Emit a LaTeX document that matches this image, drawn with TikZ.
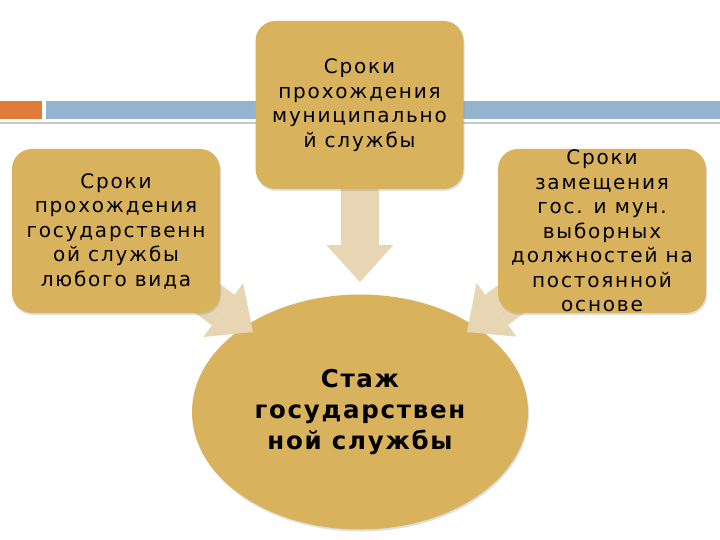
\documentclass[tikz,border=0pt]{standalone}
\usepackage{fontspec}
\setmainfont{DejaVu Sans}
\usetikzlibrary{arrows.meta,shadows,shapes.geometric}
\definecolor{boxgold}{RGB}{216,178,92}
\definecolor{arrowbeige}{RGB}{231,213,180}
\definecolor{barblue}{RGB}{147,179,207}
\definecolor{barorange}{RGB}{224,123,57}
\definecolor{linegray}{RGB}{200,200,200}
\pgfdeclarelayer{bg}
\pgfdeclarelayer{arrowlayer}
\pgfsetlayers{bg,arrowlayer,main}
\tikzset{
  gbox/.style={rectangle, rounded corners=20bp, fill=boxgold, inner sep=0pt,
    minimum width=208bp, minimum height=164bp, align=center,
    font=\fontsize{20bp}{24.5bp}\selectfont\addfontfeature{LetterSpace=9},
    drop shadow={opacity=0.25, shadow xshift=1bp, shadow yshift=-2bp}},
  bigarrow/.style={draw=arrowbeige, line width=38bp,
    -{Triangle[length=37bp,width=67bp,line width=0pt]}},
}
\begin{document}
\begin{tikzpicture}[x=1bp,y=-1bp]
\useasboundingbox (0,0) rectangle (720,540);
\begin{pgfonlayer}{bg}
  \fill[barorange] (0,101) rectangle (42,119);
  \fill[barblue] (46,101) rectangle (720,119);
  \fill[linegray] (0,122) rectangle (720,124.5);
  \node[ellipse, fill=boxgold, minimum width=336bp, minimum height=235bp, inner sep=0pt,
    align=center, font=\bfseries\fontsize{24.5bp}{31bp}\selectfont\addfontfeature{LetterSpace=7},
    drop shadow={opacity=0.25, shadow xshift=1bp, shadow yshift=-2bp}]
    (ell) at (360,412) {Стаж\\государствен\\ной службы};
\end{pgfonlayer}
\node[gbox, minimum height=168bp] (top) at (359.5,105) {Сроки\\прохождения\\муниципально\\й службы};
\node[gbox] (left) at (116,231) {Сроки\\прохождения\\государственн\\ой службы\\любого вида};
\node[gbox] (right) at (602,231) {Сроки\\замещения\\гос. и мун.\\выборных\\должностей на\\постоянной\\основе};
\coordinate (tl) at (253,332);
\coordinate (tr) at (467,332);
\coordinate (tm) at (360,282);
\begin{pgfonlayer}{arrowlayer}
  \draw[bigarrow] (top.center) -- (tm);
  \draw[bigarrow] (left.center) -- (tl);
  \draw[bigarrow] (right.center) -- (tr);
\end{pgfonlayer}
\end{tikzpicture}
\end{document}
